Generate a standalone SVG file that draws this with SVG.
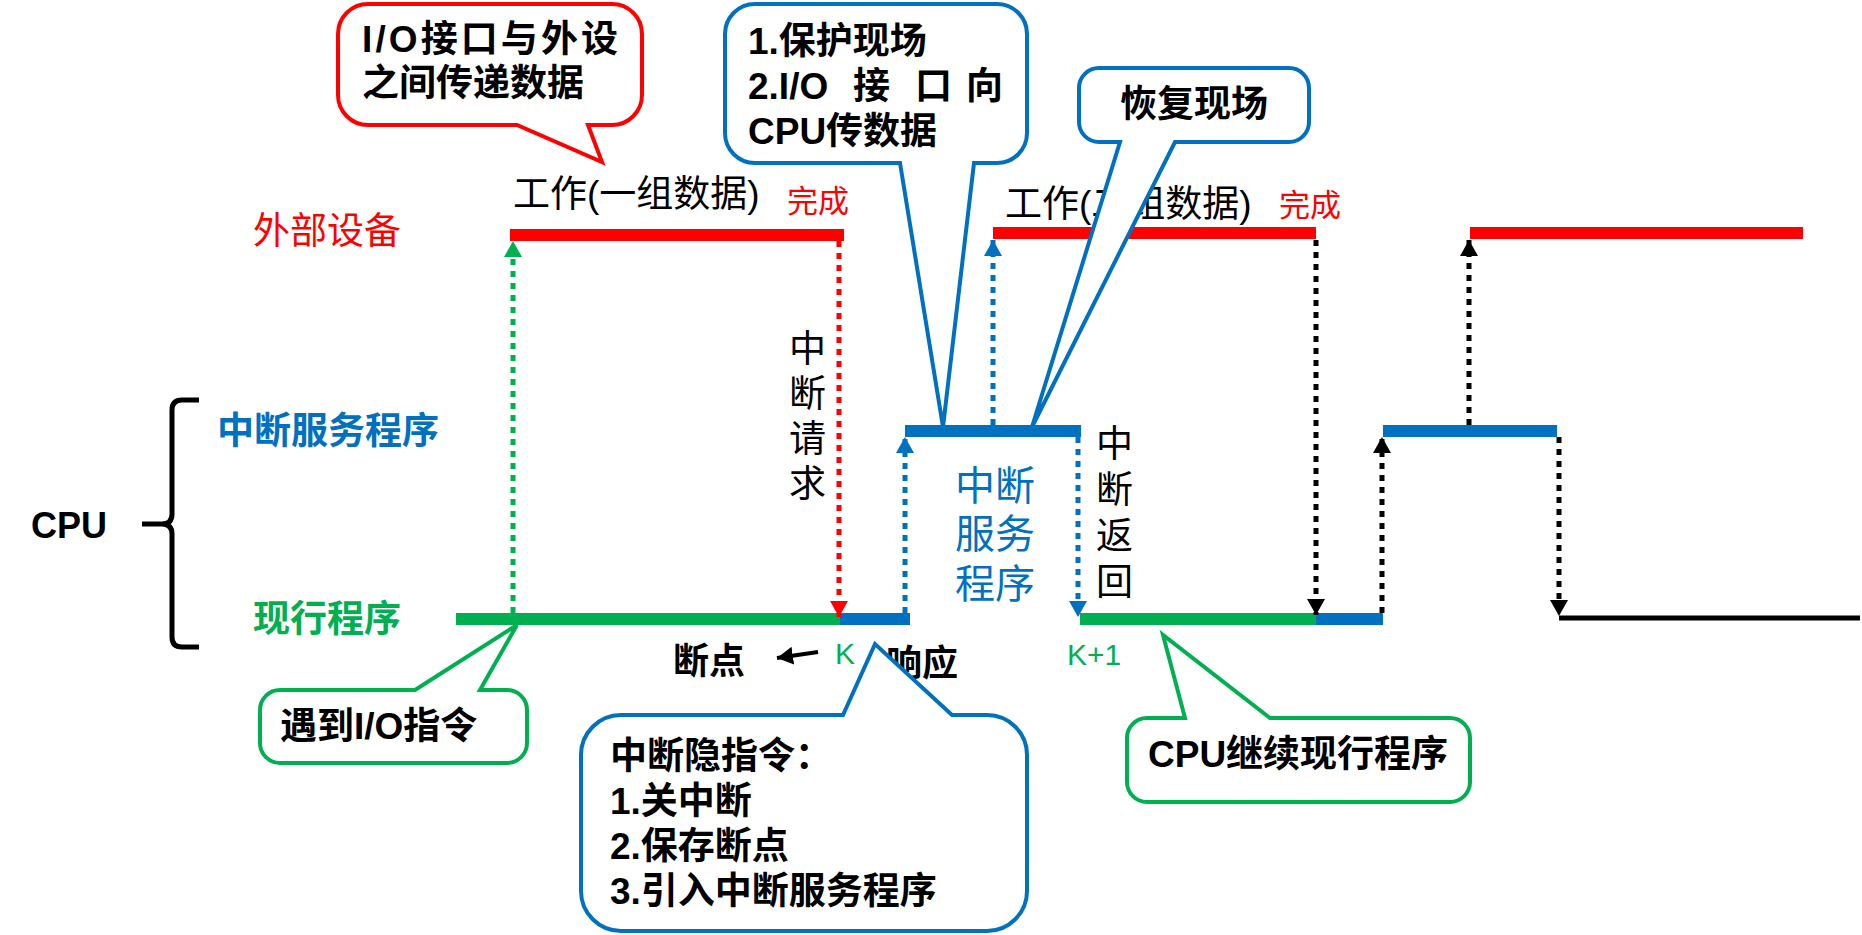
<svg xmlns="http://www.w3.org/2000/svg" width="1862" height="935" viewBox="0 0 1862 935">
<style>
.t{font-family:"Liberation Sans","Noto Sans CJK SC",sans-serif;font-size:37px;fill:#000}
.b{font-weight:bold}
.red{fill:#FF0000}.grn{fill:#00B050}.blu{fill:#0070C0}
.bar{stroke-width:12;fill:none}
.dot{stroke-width:5;stroke-dasharray:6 6;fill:none}
.co{fill:#fff;stroke-width:4;stroke-linejoin:miter}
.v{writing-mode:vertical-rl;letter-spacing:8px}
</style>
<defs>
<marker id="ag" viewBox="0 0 16 18" refX="16" refY="9" markerWidth="16" markerHeight="18" markerUnits="userSpaceOnUse" orient="auto"><path d="M0,0L16,9L0,18z" fill="#00B050"/></marker>
<marker id="ar" viewBox="0 0 16 18" refX="16" refY="9" markerWidth="16" markerHeight="18" markerUnits="userSpaceOnUse" orient="auto"><path d="M0,0L16,9L0,18z" fill="#FF0000"/></marker>
<marker id="ab" viewBox="0 0 16 18" refX="16" refY="9" markerWidth="16" markerHeight="18" markerUnits="userSpaceOnUse" orient="auto"><path d="M0,0L16,9L0,18z" fill="#0070C0"/></marker>
<marker id="ak" viewBox="0 0 16 18" refX="16" refY="9" markerWidth="16" markerHeight="18" markerUnits="userSpaceOnUse" orient="auto"><path d="M0,0L16,9L0,18z" fill="#000"/></marker>
</defs>
<rect width="1862" height="935" fill="#fff"/>

<g id="connectors">
  <line class="bar" x1="510" y1="235" x2="844" y2="235" stroke="#FF0000"/>
  <line class="bar" x1="993" y1="233" x2="1316" y2="233" stroke="#FF0000"/>
  <line class="bar" x1="1470" y1="233" x2="1803" y2="233" stroke="#FF0000"/>
  <line class="bar" x1="456" y1="619" x2="840" y2="619" stroke="#00B050"/>
  <line class="bar" x1="840" y1="619" x2="910" y2="619" stroke="#0070C0"/>
  <line class="bar" x1="905" y1="431" x2="1081" y2="431" stroke="#0070C0"/>
  <line class="bar" x1="1080" y1="619" x2="1316" y2="619" stroke="#00B050"/>
  <line class="bar" x1="1316" y1="619" x2="1383" y2="619" stroke="#0070C0"/>
  <line class="bar" x1="1383" y1="431" x2="1557" y2="431" stroke="#0070C0"/>
  <line x1="1559" y1="618" x2="1860" y2="618" stroke="#000" stroke-width="5"/>
  <line class="dot" x1="513" y1="613" x2="513" y2="241" stroke="#00B050" marker-end="url(#ag)"/>
  <line class="dot" x1="839" y1="241" x2="839" y2="617" stroke="#FF0000" marker-end="url(#ar)"/>
  <line class="dot" x1="905" y1="613" x2="905" y2="437" stroke="#0070C0" marker-end="url(#ab)"/>
  <line class="dot" x1="993" y1="425" x2="993" y2="240" stroke="#0070C0" marker-end="url(#ab)"/>
  <line class="dot" x1="1078" y1="437" x2="1078" y2="617" stroke="#0070C0" marker-end="url(#ab)"/>
  <line class="dot" x1="1316" y1="240" x2="1316" y2="615" stroke="#000" marker-end="url(#ak)"/>
  <line class="dot" x1="1382" y1="613" x2="1382" y2="437" stroke="#000" marker-end="url(#ak)"/>
  <line class="dot" x1="1469" y1="425" x2="1469" y2="240" stroke="#000" marker-end="url(#ak)"/>
  <line class="dot" x1="1559" y1="437" x2="1559" y2="616" stroke="#000" marker-end="url(#ak)"/>
  <line x1="818" y1="652" x2="777" y2="658" stroke="#000" stroke-width="4" marker-end="url(#ak)"/>
  <path d="M199,400H182Q172,400 172,410V514Q172,524 162,524H142M162,524Q172,524 172,534V637Q172,647 182,647H199" fill="none" stroke="#000" stroke-width="5"/>
</g>

<g id="labels">
  <text id="lbl-device" class="t red" x="253" y="244">外部设备</text>
  <text id="lbl-isr" class="t b blu" x="217" y="444">中断服务程序</text>
  <text id="lbl-current" class="t b grn" x="253" y="632">现行程序</text>
  <text id="lbl-cpu" class="t b" x="31" y="538" style="font-size:36px">CPU</text>
  <text id="lbl-work1" class="t" x="513" y="207">工作(一组数据)</text>
  <text id="lbl-done1" class="t red" x="787" y="212" style="font-size:31px">完成</text>
  <text id="lbl-work2" class="t" x="1005" y="217">工作(二组数据)</text>
  <text id="lbl-done2" class="t red" x="1279" y="216" style="font-size:31px">完成</text>
  <text id="lbl-req" class="t v" x="804" y="329">中断请求</text>
  <text id="lbl-ret" class="t v" x="1111" y="424" style="letter-spacing:9px">中断返回</text>
  <text id="lbl-isr-center" class="t blu" text-anchor="middle" style="font-size:40px"><tspan x="995" y="500">中断</tspan><tspan x="995" y="548">服务</tspan><tspan x="995" y="598">程序</tspan></text>
  <text id="lbl-k" class="t grn" x="835" y="664" style="font-size:30px">K</text>
  <text id="lbl-k1" class="t grn" x="1067" y="665" style="font-size:30px">K+1</text>
  <text id="lbl-bp" class="t b" x="673" y="674" style="font-size:36px">断点</text>
  <text id="lbl-resp" class="t b" x="886" y="676" style="font-size:36px">响应</text>
</g>

<g id="callout-io">
  <path class="co" stroke="#FF0000" d="M368,4H612A30,30 0 0 1 642,34V95A30,30 0 0 1 612,125H588L602,162L517,125H368A30,30 0 0 1 338,95V34A30,30 0 0 1 368,4Z"/>
  <text class="t b"><tspan x="362" y="52" textLength="256" lengthAdjust="spacing">I/O接口与外设</tspan><tspan x="362" y="96">之间传递数据</tspan></text>
</g>

<g id="callout-save">
  <path class="co" stroke="#0070C0" d="M755,4H997A30,30 0 0 1 1027,34V133A30,30 0 0 1 997,163H974L943,427L900,163H755A30,30 0 0 1 725,133V34A30,30 0 0 1 755,4Z"/>
  <text class="t b"><tspan x="748" y="54">1.保护现场</tspan><tspan x="748" y="99">2.I/O</tspan><tspan x="853" y="99">接</tspan><tspan x="915" y="99">口</tspan><tspan x="966" y="99">向</tspan><tspan x="748" y="144">CPU传数据</tspan></text>
</g>

<g id="callout-restore">
  <path class="co" stroke="#0070C0" d="M1099,68H1289A20,20 0 0 1 1309,88V122A20,20 0 0 1 1289,142H1175L1032,427L1120,142H1099A20,20 0 0 1 1079,122V88A20,20 0 0 1 1099,68Z"/>
  <text class="t b" x="1120" y="117">恢复现场</text>
</g>

<g id="callout-io-instr">
  <path class="co" stroke="#00B050" d="M280,690H415L517,625L480,690H507A20,20 0 0 1 527,710V743A20,20 0 0 1 507,763H280A20,20 0 0 1 260,743V710A20,20 0 0 1 280,690Z"/>
  <text class="t b" x="280" y="739">遇到I/O指令</text>
</g>

<g id="callout-hidden">
  <path class="co" stroke="#0070C0" d="M621,715H843L875,644L952,715H987A40,40 0 0 1 1027,755V891A40,40 0 0 1 987,931H621A40,40 0 0 1 581,891V755A40,40 0 0 1 621,715Z"/>
  <text class="t b"><tspan x="610" y="769">中断隐指令：</tspan><tspan x="610" y="814">1.关中断</tspan><tspan x="610" y="859">2.保存断点</tspan><tspan x="610" y="904">3.引入中断服务程序</tspan></text>
</g>

<g id="callout-continue">
  <path class="co" stroke="#00B050" d="M1147,718H1185L1163,635L1270,718H1450A20,20 0 0 1 1470,738V782A20,20 0 0 1 1450,802H1147A20,20 0 0 1 1127,782V738A20,20 0 0 1 1147,718Z"/>
  <text class="t b" x="1148" y="767">CPU继续现行程序</text>
</g>
</svg>
